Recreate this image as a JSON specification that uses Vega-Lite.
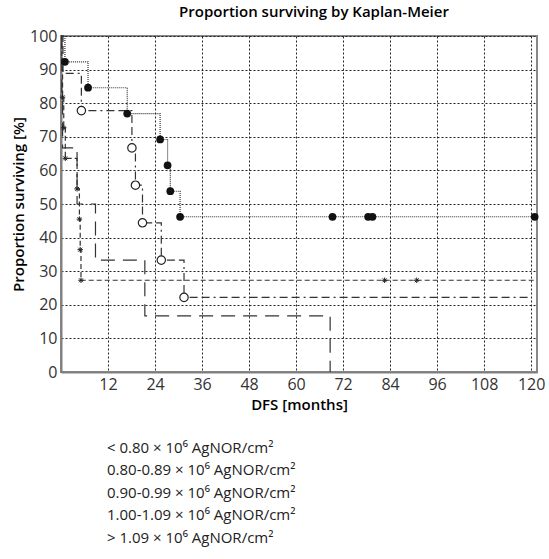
{
  "$schema": "https://vega.github.io/schema/vega-lite/v6.json",
  "autosize": {"type": "none"},
  "padding": {"left": 61, "top": 36, "right": 12, "bottom": 187},
  "width": 476,
  "height": 336,
  "title": {"text": "Proportion surviving by Kaplan-Meier", "font": "Open Sans", "fontSize": 15, "fontWeight": 600, "color": "#000", "offset": 8, "anchor": "middle", "dx": 15},
  "config": {
    "view": {"stroke": "#888", "strokeWidth": 2},
    "font": "Open Sans",
    "axis": {"gridColor": "#222", "gridDash": [2, 2], "gridWidth": 1, "gridOpacity": 1, "domainColor": "#808080", "domainWidth": 2, "ticks": false, "labelFont": "Open Sans", "labelFontSize": 16, "labelColor": "#333", "titleFont": "Open Sans", "titleFontSize": 15, "titleFontWeight": 600, "titleColor": "#000"}
  },
  "datasets": {
    "curves": [
      {"group": "< 0.80 × 10⁶ AgNOR/cm²", "t": 0, "s": 100},
      {"group": "< 0.80 × 10⁶ AgNOR/cm²", "t": 1, "s": 92.3},
      {"group": "< 0.80 × 10⁶ AgNOR/cm²", "t": 6.9, "s": 84.6},
      {"group": "< 0.80 × 10⁶ AgNOR/cm²", "t": 16.9, "s": 76.9},
      {"group": "< 0.80 × 10⁶ AgNOR/cm²", "t": 25.3, "s": 69.2},
      {"group": "< 0.80 × 10⁶ AgNOR/cm²", "t": 27.2, "s": 61.5},
      {"group": "< 0.80 × 10⁶ AgNOR/cm²", "t": 27.9, "s": 53.8},
      {"group": "< 0.80 × 10⁶ AgNOR/cm²", "t": 30.4, "s": 46.2},
      {"group": "< 0.80 × 10⁶ AgNOR/cm²", "t": 120.9, "s": 46.2},
      {"group": "0.80-0.89 × 10⁶ AgNOR/cm²", "t": 0, "s": 100},
      {"group": "0.80-0.89 × 10⁶ AgNOR/cm²", "t": 0.5, "s": 88.9},
      {"group": "0.80-0.89 × 10⁶ AgNOR/cm²", "t": 5.2, "s": 77.8},
      {"group": "0.80-0.89 × 10⁶ AgNOR/cm²", "t": 18.1, "s": 66.7},
      {"group": "0.80-0.89 × 10⁶ AgNOR/cm²", "t": 19.0, "s": 55.6},
      {"group": "0.80-0.89 × 10⁶ AgNOR/cm²", "t": 20.8, "s": 44.4},
      {"group": "0.80-0.89 × 10⁶ AgNOR/cm²", "t": 25.6, "s": 33.3},
      {"group": "0.80-0.89 × 10⁶ AgNOR/cm²", "t": 31.4, "s": 22.2},
      {"group": "0.80-0.89 × 10⁶ AgNOR/cm²", "t": 120, "s": 22.2},
      {"group": "0.90-0.99 × 10⁶ AgNOR/cm²", "t": 0, "s": 100},
      {"group": "0.90-0.99 × 10⁶ AgNOR/cm²", "t": 0.2, "s": 90.9},
      {"group": "0.90-0.99 × 10⁶ AgNOR/cm²", "t": 0.4, "s": 81.8},
      {"group": "0.90-0.99 × 10⁶ AgNOR/cm²", "t": 0.7, "s": 72.7},
      {"group": "0.90-0.99 × 10⁶ AgNOR/cm²", "t": 1.1, "s": 63.6},
      {"group": "0.90-0.99 × 10⁶ AgNOR/cm²", "t": 4.1, "s": 54.5},
      {"group": "0.90-0.99 × 10⁶ AgNOR/cm²", "t": 4.7, "s": 45.5},
      {"group": "0.90-0.99 × 10⁶ AgNOR/cm²", "t": 4.9, "s": 36.4},
      {"group": "0.90-0.99 × 10⁶ AgNOR/cm²", "t": 5.1, "s": 27.3},
      {"group": "0.90-0.99 × 10⁶ AgNOR/cm²", "t": 121, "s": 27.3},
      {"group": "> 1.09 × 10⁶ AgNOR/cm²", "t": 0, "s": 100},
      {"group": "> 1.09 × 10⁶ AgNOR/cm²", "t": 0.2, "s": 83.3},
      {"group": "> 1.09 × 10⁶ AgNOR/cm²", "t": 0.4, "s": 66.7},
      {"group": "> 1.09 × 10⁶ AgNOR/cm²", "t": 4.1, "s": 50},
      {"group": "> 1.09 × 10⁶ AgNOR/cm²", "t": 8.8, "s": 33.3},
      {"group": "> 1.09 × 10⁶ AgNOR/cm²", "t": 21.4, "s": 16.7},
      {"group": "> 1.09 × 10⁶ AgNOR/cm²", "t": 68.7, "s": 0}
    ],
    "marks": [
      {"group": "< 0.80 × 10⁶ AgNOR/cm²", "t": 1, "s": 92.3},
      {"group": "< 0.80 × 10⁶ AgNOR/cm²", "t": 6.9, "s": 84.6},
      {"group": "< 0.80 × 10⁶ AgNOR/cm²", "t": 16.9, "s": 76.9},
      {"group": "< 0.80 × 10⁶ AgNOR/cm²", "t": 25.3, "s": 69.2},
      {"group": "< 0.80 × 10⁶ AgNOR/cm²", "t": 27.2, "s": 61.5},
      {"group": "< 0.80 × 10⁶ AgNOR/cm²", "t": 27.9, "s": 53.8},
      {"group": "< 0.80 × 10⁶ AgNOR/cm²", "t": 30.4, "s": 46.2},
      {"group": "< 0.80 × 10⁶ AgNOR/cm²", "t": 69.3, "s": 46.2},
      {"group": "< 0.80 × 10⁶ AgNOR/cm²", "t": 78.4, "s": 46.2},
      {"group": "< 0.80 × 10⁶ AgNOR/cm²", "t": 79.5, "s": 46.2},
      {"group": "< 0.80 × 10⁶ AgNOR/cm²", "t": 120.9, "s": 46.2},
      {"group": "0.80-0.89 × 10⁶ AgNOR/cm²", "t": 5.2, "s": 77.8},
      {"group": "0.80-0.89 × 10⁶ AgNOR/cm²", "t": 18.1, "s": 66.7},
      {"group": "0.80-0.89 × 10⁶ AgNOR/cm²", "t": 19.0, "s": 55.6},
      {"group": "0.80-0.89 × 10⁶ AgNOR/cm²", "t": 20.8, "s": 44.4},
      {"group": "0.80-0.89 × 10⁶ AgNOR/cm²", "t": 25.6, "s": 33.3},
      {"group": "0.80-0.89 × 10⁶ AgNOR/cm²", "t": 31.4, "s": 22.2},
      {"group": "0.90-0.99 × 10⁶ AgNOR/cm²", "t": 0.4, "s": 81.8},
      {"group": "0.90-0.99 × 10⁶ AgNOR/cm²", "t": 0.7, "s": 72.7},
      {"group": "0.90-0.99 × 10⁶ AgNOR/cm²", "t": 1.1, "s": 63.6},
      {"group": "0.90-0.99 × 10⁶ AgNOR/cm²", "t": 4.1, "s": 54.5},
      {"group": "0.90-0.99 × 10⁶ AgNOR/cm²", "t": 4.7, "s": 45.5},
      {"group": "0.90-0.99 × 10⁶ AgNOR/cm²", "t": 4.9, "s": 36.4},
      {"group": "0.90-0.99 × 10⁶ AgNOR/cm²", "t": 5.1, "s": 27.3},
      {"group": "0.90-0.99 × 10⁶ AgNOR/cm²", "t": 82.6, "s": 27.3},
      {"group": "0.90-0.99 × 10⁶ AgNOR/cm²", "t": 90.8, "s": 27.3}
    ]
  },
  "encoding": {
    "x": {"field": "t", "type": "quantitative", "scale": {"domain": [0, 121.5], "nice": false, "zero": true}, "axis": {"title": "DFS [months]", "values": [12, 24, 36, 48, 60, 72, 84, 96, 108, 120], "labelPadding": 4, "titlePadding": 5}},
    "y": {"field": "s", "type": "quantitative", "scale": {"domain": [0, 100], "nice": false}, "axis": {"title": "Proportion surviving [%]", "values": [0, 10, 20, 30, 40, 50, 60, 70, 80, 90, 100], "labelPadding": 4, "titlePadding": 3}}
  },
  "layer": [
    {
      "data": {"name": "curves"},
      "mark": {"type": "line", "interpolate": "step-after", "color": "#333", "strokeWidth": 1.2},
      "encoding": {
        "detail": {"field": "group"},
        "strokeDash": {
          "field": "group", "type": "nominal",
          "scale": {
            "domain": ["< 0.80 × 10⁶ AgNOR/cm²", "0.80-0.89 × 10⁶ AgNOR/cm²", "0.90-0.99 × 10⁶ AgNOR/cm²", "1.00-1.09 × 10⁶ AgNOR/cm²", "> 1.09 × 10⁶ AgNOR/cm²"],
            "range": [[1, 1], [8, 4, 8, 4, 2, 4], [5, 3], [3, 3], [14, 8]]
          },
          "legend": {"title": null, "orient": "none", "legendX": 31, "legendY": 404, "symbolOpacity": 0, "symbolSize": 1, "symbolStrokeWidth": 0, "labelOffset": 0, "labelFont": "Open Sans", "labelFontSize": 15, "labelColor": "#222", "rowPadding": 6.5, "labelLimit": 400}
        }
      }
    },
    {
      "data": {"name": "marks"},
      "transform": [{"filter": "datum.group === '< 0.80 × 10⁶ AgNOR/cm²'"}],
      "mark": {"type": "point", "shape": "circle", "filled": true, "color": "#111", "size": 60, "opacity": 1}
    },
    {
      "data": {"name": "marks"},
      "transform": [{"filter": "datum.group === '0.80-0.89 × 10⁶ AgNOR/cm²'"}],
      "mark": {"type": "point", "shape": "circle", "filled": false, "fill": "white", "fillOpacity": 1, "stroke": "#222", "strokeWidth": 1.2, "size": 70, "opacity": 1}
    },
    {
      "data": {"name": "marks"},
      "transform": [{"filter": "datum.group === '0.90-0.99 × 10⁶ AgNOR/cm²'"}],
      "mark": {"type": "point", "shape": "M-1,0L1,0M0,-1L0,1M-0.7,-0.7L0.7,0.7M-0.7,0.7L0.7,-0.7", "filled": false, "stroke": "#222", "strokeWidth": 1, "size": 30, "opacity": 1}
    }
  ]
}
